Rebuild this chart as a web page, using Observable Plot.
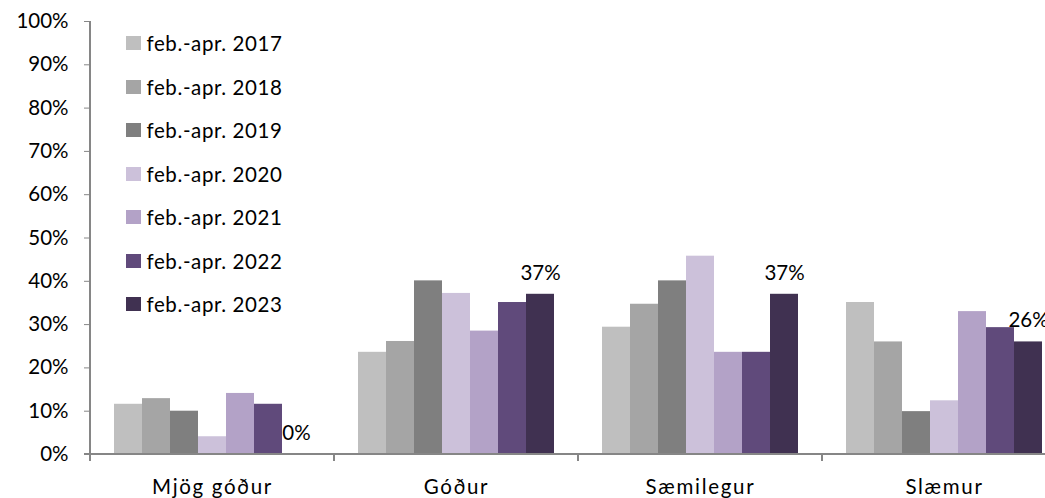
<!DOCTYPE html>
<html><head><meta charset="utf-8">
<script src="https://cdn.jsdelivr.net/npm/d3@7"></script>
<script src="https://cdn.jsdelivr.net/npm/@observablehq/plot@0.6"></script>
<style>
html,body{margin:0;padding:0;background:#fff;overflow:hidden;}
#wrap{position:relative;width:1045px;height:498px;overflow:hidden;font-family:Lato,sans-serif;}
#wrap svg{max-width:none !important;}
#legend{position:absolute;left:126px;top:21.5px;font-size:20.5px;letter-spacing:0.6px;color:#000;}
#legend .item{height:43.5px;display:flex;align-items:center;white-space:nowrap;}
#legend .sw{width:14.5px;height:14px;margin-right:6px;display:inline-block;}
g[aria-label="fx-axis tick label"] text{letter-spacing:1.7px;}
</style></head><body><div id="wrap"></div>
<script>
const categories = ["Mjög góður", "Góður", "Sæmilegur", "Slæmur"];
const series = ["feb.-apr. 2017", "feb.-apr. 2018", "feb.-apr. 2019", "feb.-apr. 2020", "feb.-apr. 2021", "feb.-apr. 2022", "feb.-apr. 2023"];
const colors = ["#bfbfbf", "#a5a5a5", "#7f7f7f", "#ccc1da", "#b3a2c7", "#604a7b", "#403151"];
const v2017 = [0.116, 0.236, 0.294, 0.351];
const v2018 = [0.129, 0.261, 0.347, 0.260];
const v2019 = [0.100, 0.401, 0.401, 0.099];
const v2020 = [0.041, 0.372, 0.458, 0.124];
const v2021 = [0.141, 0.285, 0.236, 0.330];
const v2022 = [0.116, 0.351, 0.236, 0.293];
const v2023 = [0.00, 0.37, 0.37, 0.26];
const yTicks = [0, 0.1, 0.2, 0.3, 0.4, 0.5, 0.6, 0.7, 0.8, 0.9, 1.0];

const values = [v2017, v2018, v2019, v2020, v2021, v2022, v2023];
const data = categories.flatMap((c, i) => series.map((s, j) => ({cat: c, series: s, value: values[j][i]})));
const labelled = data.filter(d => d.series === series[series.length - 1]);
const pct = d3.format(".0%");
const axisColor = "#868686";

const chart = Plot.plot({
  width: 1066, height: 498,
  marginLeft: 90, marginRight: 0, marginTop: 21, marginBottom: 44,
  style: {fontFamily: "Lato, sans-serif", fontSize: "20.5px", color: "#000", background: "#fff", maxWidth: "none"},
  fx: {domain: categories, padding: 0, label: null},
  x: {domain: series, paddingInner: 0, paddingOuter: 0.75, axis: null},
  y: {domain: [0, 1], axis: null},
  color: {domain: series, range: colors},
  marks: [
    Plot.barY(data, {fx: "cat", x: "series", y: "value", fill: "series"}),
    Plot.text(labelled, {fx: "cat", x: "series", y: "value", text: d => pct(d.value), dy: -21, fontSize: 20.5, fill: "#000"}),
    Plot.axisY({ticks: yTicks, tickFormat: pct, tickSize: 6, tickPadding: 16, stroke: axisColor, fill: "#000", fontSize: 20.5, label: null}),
    Plot.axisFx({anchor: "bottom", tickSize: 0, tickPadding: 25, label: null, fontSize: 20.5, fill: "#000"})
  ]
});

// axis lines and category boundary ticks, placed via the plot's own scales
const fx = chart.scale("fx"), y = chart.scale("y");
const svg = d3.select(chart.tagName === "svg" ? chart : chart.querySelector("svg"));
svg.style("max-width", "none");
svg.selectAll('g[aria-label="fx-axis tick label"] text').style("letter-spacing", "1.7px");
const y0 = y.apply(0), y1 = y.apply(1);
const left = fx.apply(categories[0]);
const right = fx.apply(categories[categories.length - 1]) + fx.bandwidth;
const g = svg.append("g").attr("stroke", axisColor).attr("stroke-width", 1.2).attr("shape-rendering", "crispEdges");
g.append("line").attr("x1", left - 6).attr("x2", right).attr("y1", y0).attr("y2", y0);
g.append("line").attr("x1", left).attr("x2", left).attr("y1", y1).attr("y2", y0 + 7);
categories.forEach(c => {
  const x = fx.apply(c) + fx.bandwidth;
  g.append("line").attr("x1", x).attr("x2", x).attr("y1", y0).attr("y2", y0 + 7);
});

const wrap = document.getElementById("wrap");
wrap.appendChild(chart);

const legend = document.createElement("div");
legend.id = "legend";
series.forEach((s, i) => {
  const it = document.createElement("div");
  it.className = "item";
  const sw = document.createElement("span");
  sw.className = "sw";
  sw.style.background = colors[i];
  it.appendChild(sw);
  it.appendChild(document.createTextNode(s));
  legend.appendChild(it);
});
wrap.appendChild(legend);
</script></body></html>
